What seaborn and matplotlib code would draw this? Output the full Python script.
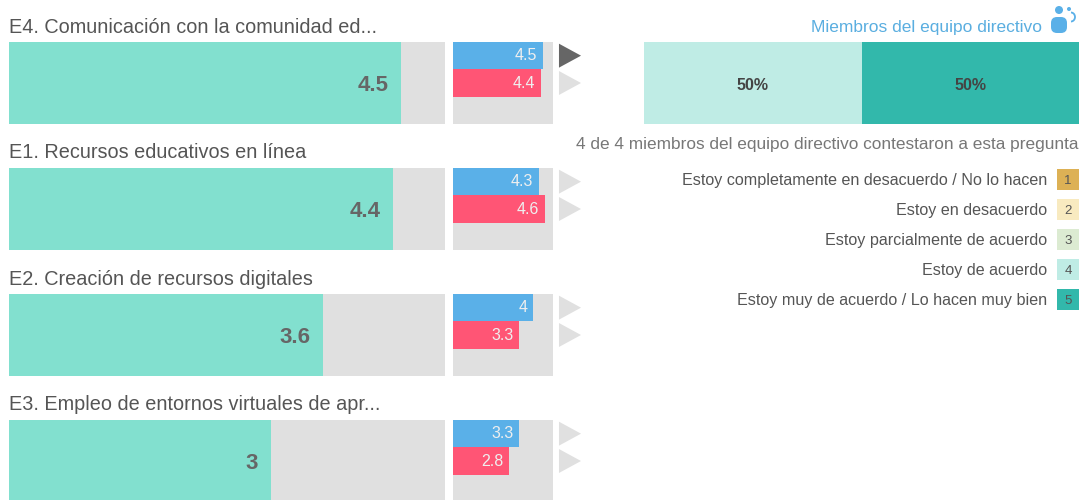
import matplotlib
matplotlib.use("Agg")
import matplotlib.pyplot as plt
from matplotlib.patches import Rectangle, FancyBboxPatch, Circle, Arc
import seaborn as sns

# data
titles = ["E4. Comunicación con la comunidad ed...", "E1. Recursos educativos en línea",
          "E2. Creación de recursos digitales", "E3. Empleo de entornos virtuales de apr..."]
scores = [4.5, 4.4, 3.6, 3]
equipo = [4.5, 4.3, 4, 3.3]
docentes = [4.4, 4.6, 3.3, 2.8]
highlight = [["si", "no"], ["no", "no"], ["no", "no"], ["no", "no"]]
groups = ["equipo", "docentes"]
scale_max = 5

resp_labels = ["Estoy completamente en desacuerdo / No lo hacen", "Estoy en desacuerdo",
               "Estoy parcialmente de acuerdo", "Estoy de acuerdo",
               "Estoy muy de acuerdo / Lo hacen muy bien"]
resp_pct = [0, 0, 0, 50, 50]
resp_colors = ["#DDB155", "#F8EAC0", "#DCEBD2", "#BFECE5", "#32B8AB"]

W, H = 1083, 500
TEAL = "#82E0CF"
GREY = "#E0E0E0"
BLUE = "#5AB0E8"
RED = "#FF5575"
TXT = "#555555"

sns.set_theme(style="white")
plt.rcParams["font.family"] = ["Liberation Sans", "DejaVu Sans"]

fig = plt.figure(figsize=(W / 100, H / 100), dpi=100)


def px_axes(x0, y0, x1, y1):
    # axes from pixel box, y measured from the top
    ax = fig.add_axes([x0 / W, 1 - y1 / H, (x1 - x0) / W, (y1 - y0) / H])
    ax.set_facecolor(GREY)
    sns.despine(ax=ax, left=True, bottom=True)
    return ax


def clean(ax):
    ax.set_xticks([])
    ax.set_yticks([])
    ax.set_xlabel("")
    ax.set_ylabel("")


for i, title in enumerate(titles):
    top = 42 + 126 * i

    # big bar
    ax = px_axes(9, top, 445, top + 82)
    sns.barplot(x=[scores[i]], y=[title], color=TEAL, width=1, saturation=1, linewidth=0, ax=ax)
    ax.set_xlim(0, scale_max)
    clean(ax)
    ax.annotate(f"{scores[i]:g}", (scores[i], 0), xytext=(-9, -2), textcoords="offset points",
                ha="right", va="center", fontsize=16, fontweight="bold", color="#666666")

    # small bars
    ax = px_axes(453, top, 553, top + 82)
    vals = [equipo[i], docentes[i]]
    sns.barplot(x=vals, y=groups, hue=groups, palette=[BLUE, RED], width=1, saturation=1,
                linewidth=0, legend=False, ax=ax)
    ax.set_xlim(0, scale_max)
    ax.set_ylim(2.5, -0.5)
    clean(ax)
    for j, v in enumerate(vals):
        ax.annotate(f"{v:g}", (v, j), xytext=(-4, 0), textcoords="offset points",
                    ha="right", va="center", fontsize=11.5, color="#EFEFEF")

    # triangles
    ax = px_axes(559, top, 581, top + 82)
    ax.set_facecolor("none")
    sns.scatterplot(x=[0, 0], y=groups, hue=highlight[i], palette={"si": "#666666", "no": GREY},
                    marker=[(-0.92, -1), (0.92, 0), (-0.92, 1)], s=298, linewidth=0, legend=False,
                    clip_on=False, ax=ax)
    ax.set_xlim(-1, 1)
    ax.set_ylim(2.5, -0.5)
    clean(ax)

# stacked response bar, widest first so the shorter ones sit on top
ax = px_axes(644, 42, 1079, 124)
ax.set_facecolor("white")
cum = 0
ends = []
for p in resp_pct:
    cum += p
    ends.append(cum)
for k in range(len(resp_pct) - 1, -1, -1):
    if resp_pct[k] > 0:
        sns.barplot(x=[ends[k]], y=["r"], color=resp_colors[k], width=1, saturation=1, linewidth=0, ax=ax)
        ax.annotate(f"{resp_pct[k]}%", (ends[k] - resp_pct[k] / 2, 0), xytext=(0, -1.5),
                    textcoords="offset points", ha="center", va="center",
                    fontsize=11.5, fontweight="bold", color="#444444")
ax.set_xlim(0, 100)
clean(ax)

# overlay for titles, legend and icon, in pixels
ov = fig.add_axes([0, 0, 1, 1])
ov.set_xlim(0, W)
ov.set_ylim(H, 0)
ov.axis("off")
ov.patch.set_alpha(0)

title_y = [27.5, 152.5, 279.5, 404.5]
for t, y in zip(titles, title_y):
    ov.text(9, y, t, fontsize=14.3, color=TXT, ha="left", va="center")

ov.text(1042, 27.5, "Miembros del equipo directivo", fontsize=12.5, color="#5AAEE0", ha="right", va="center")
ov.text(1079, 144, "4 de 4 miembros del equipo directivo contestaron a esta pregunta",
        fontsize=12.4, color="#777777", ha="right", va="center")

# icon
ov.add_patch(FancyBboxPatch((1051, 17), 16, 16, boxstyle="round,pad=0,rounding_size=6", fc=BLUE, ec="none"))
ov.add_patch(Circle((1059, 10), 4, fc=BLUE, ec="none"))
ov.add_patch(Circle((1069, 9), 2, fc=BLUE, ec="none"))
ov.add_patch(Arc((1071, 17), 8, 9, theta1=-90, theta2=90, ec=BLUE, lw=1.3))

# legend
for n, (lab, col) in enumerate(zip(resp_labels, resp_colors)):
    yc = 179 + 30 * n
    ov.add_patch(Rectangle((1057, yc - 10.5), 22, 21, fc=col, ec="none"))
    ov.text(1068, yc + 1.5, str(n + 1), fontsize=9.5, color=TXT, ha="center", va="center")
    ov.text(1047, yc + 1, lab, fontsize=11.65, color=TXT, ha="right", va="center")

fig.savefig("out.png", dpi=100)
